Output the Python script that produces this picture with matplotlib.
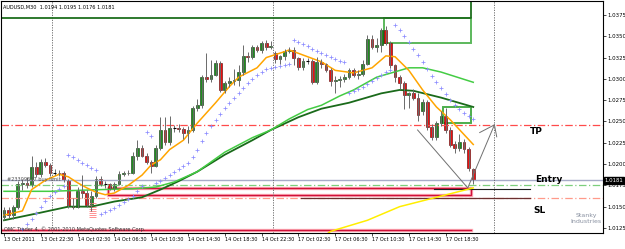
import numpy as np
import matplotlib.pyplot as plt
from matplotlib.patches import Rectangle

# AUDUSD M30, first bar 13 Oct 2011 18:30
opens = [1.0138, 1.0146, 1.0140, 1.0149, 1.0176, 1.0178, 1.0175, 1.0197, 1.0188, 1.0202,
         1.0199, 1.0190, 1.0190, 1.0189, 1.0181, 1.0151, 1.0150, 1.0168, 1.0166, 1.0152,
         1.0163, 1.0183, 1.0176, 1.0176, 1.0172, 1.0177, 1.0188, 1.0189, 1.0190, 1.0210,
         1.0219, 1.0210, 1.0202, 1.0198, 1.0219, 1.0240, 1.0226, 1.0242, 1.0242, 1.0241,
         1.0236, 1.0240, 1.0266, 1.0269, 1.0302, 1.0300, 1.0305, 1.0319, 1.0287, 1.0295,
         1.0297, 1.0299, 1.0308, 1.0327, 1.0326, 1.0337, 1.0334, 1.0342, 1.0338, 1.0330,
         1.0323, 1.0327, 1.0333, 1.0334, 1.0324, 1.0314, 1.0321, 1.0321, 1.0296, 1.0320,
         1.0317, 1.0311, 1.0297, 1.0299, 1.0300, 1.0302, 1.0311, 1.0305, 1.0306, 1.0318,
         1.0347, 1.0337, 1.0340, 1.0357, 1.0342, 1.0316, 1.0302, 1.0295, 1.0281, 1.0284,
         1.0278, 1.0262, 1.0273, 1.0244, 1.0232, 1.0248, 1.0257, 1.0240, 1.0224, 1.0219,
         1.0226, 1.0218, 1.0194]
highs = [1.0150, 1.0150, 1.0152, 1.0180, 1.0183, 1.0185, 1.0210, 1.0203, 1.0206, 1.0207,
         1.0201, 1.0194, 1.0193, 1.0192, 1.0183, 1.0160, 1.0173, 1.0187, 1.0170, 1.0168,
         1.0186, 1.0186, 1.0180, 1.0178, 1.0179, 1.0192, 1.0192, 1.0193, 1.0214, 1.0228,
         1.0222, 1.0213, 1.0205, 1.0222, 1.0255, 1.0255, 1.0256, 1.0246, 1.0247, 1.0244,
         1.0245, 1.0268, 1.0276, 1.0305, 1.0330, 1.0322, 1.0322, 1.0321, 1.0298, 1.0302,
         1.0312, 1.0316, 1.0340, 1.0331, 1.0340, 1.0340, 1.0344, 1.0346, 1.0345, 1.0333,
         1.0328, 1.0335, 1.0337, 1.0338, 1.0326, 1.0324, 1.0325, 1.0323, 1.0326, 1.0323,
         1.0319, 1.0313, 1.0303, 1.0303, 1.0306, 1.0313, 1.0313, 1.0311, 1.0322, 1.0352,
         1.0352, 1.0348, 1.0360, 1.0362, 1.0344, 1.0318, 1.0304, 1.0297, 1.0285, 1.0288,
         1.0283, 1.0276, 1.0275, 1.0247, 1.0250, 1.0262, 1.0266, 1.0243, 1.0227, 1.0235,
         1.0229, 1.0220, 1.0195]
lows = [1.0134, 1.0137, 1.0136, 1.0147, 1.0170, 1.0172, 1.0173, 1.0185, 1.0185, 1.0197,
        1.0186, 1.0187, 1.0186, 1.0179, 1.0148, 1.0147, 1.0148, 1.0160, 1.0150, 1.0145,
        1.0160, 1.0174, 1.0172, 1.0170, 1.0168, 1.0175, 1.0186, 1.0187, 1.0188, 1.0205,
        1.0208, 1.0200, 1.0190, 1.0196, 1.0217, 1.0222, 1.0222, 1.0238, 1.0238, 1.0230,
        1.0225, 1.0238, 1.0262, 1.0266, 1.0296, 1.0296, 1.0303, 1.0285, 1.0283, 1.0290,
        1.0293, 1.0292, 1.0305, 1.0320, 1.0323, 1.0331, 1.0330, 1.0334, 1.0335, 1.0319,
        1.0317, 1.0322, 1.0330, 1.0316, 1.0310, 1.0311, 1.0318, 1.0294, 1.0294, 1.0313,
        1.0308, 1.0292, 1.0284, 1.0290, 1.0296, 1.0300, 1.0302, 1.0300, 1.0303, 1.0316,
        1.0335, 1.0331, 1.0332, 1.0340, 1.0313, 1.0296, 1.0288, 1.0265, 1.0266, 1.0275,
        1.0250, 1.0258, 1.0240, 1.0228, 1.0228, 1.0245, 1.0236, 1.0220, 1.0213, 1.0215,
        1.0213, 1.0192, 1.0176]
closes = [1.0146, 1.0140, 1.0149, 1.0176, 1.0178, 1.0175, 1.0197, 1.0188, 1.0202, 1.0199,
          1.0190, 1.0190, 1.0189, 1.0181, 1.0151, 1.0150, 1.0168, 1.0166, 1.0152, 1.0163,
          1.0183, 1.0176, 1.0176, 1.0172, 1.0177, 1.0188, 1.0189, 1.0190, 1.0210, 1.0219,
          1.0210, 1.0202, 1.0198, 1.0219, 1.0240, 1.0226, 1.0242, 1.0242, 1.0241, 1.0236,
          1.0240, 1.0266, 1.0269, 1.0302, 1.0300, 1.0305, 1.0319, 1.0287, 1.0295, 1.0297,
          1.0299, 1.0308, 1.0327, 1.0326, 1.0337, 1.0334, 1.0342, 1.0338, 1.0339, 1.0323,
          1.0327, 1.0333, 1.0334, 1.0324, 1.0314, 1.0321, 1.0321, 1.0296, 1.0320, 1.0317,
          1.0311, 1.0297, 1.0299, 1.0300, 1.0302, 1.0311, 1.0305, 1.0306, 1.0318, 1.0347,
          1.0337, 1.0340, 1.0357, 1.0342, 1.0316, 1.0302, 1.0295, 1.0281, 1.0283, 1.0278,
          1.0258, 1.0273, 1.0244, 1.0232, 1.0248, 1.0257, 1.0240, 1.0222, 1.0219, 1.0226,
          1.0218, 1.0195, 1.0181]

# parabolic SAR, one value per bar
sar = [1.0111, 1.0113, 1.0116, 1.0118, 1.0124, 1.0130, 1.0136, 1.0143, 1.0150, 1.0157,
       1.0163, 1.0167, 1.0171, 1.0174, 1.0211, 1.0208, 1.0205, 1.0201, 1.0199, 1.0195,
       1.0193, 1.0141, 1.0144, 1.0146, 1.0148, 1.0152, 1.0155, 1.0159, 1.0163, 1.0168,
       1.0174, 1.0238, 1.0233, 1.0178, 1.0180, 1.0184, 1.0187, 1.0191, 1.0194, 1.0198,
       1.0201, 1.0208, 1.0217, 1.0227, 1.0237, 1.0245, 1.0252, 1.0259, 1.0266, 1.0272,
       1.0278, 1.0283, 1.0289, 1.0295, 1.0300, 1.0305, 1.0308, 1.0312, 1.0313, 1.0314,
       1.0315, 1.0316, 1.0318, 1.0346, 1.0343, 1.0341, 1.0339, 1.0335, 1.0333, 1.0330,
       1.0328, 1.0326, 1.0323, 1.0321, 1.0320, 1.0283, 1.0286, 1.0288, 1.0291, 1.0294,
       1.0298, 1.0301, 1.0305, 1.0308, 1.0310, 1.0363, 1.0357, 1.0350, 1.0343, 1.0335,
       1.0328, 1.0320, 1.0312, 1.0303, 1.0296, 1.0289, 1.0282, 1.0275, 1.0269, 1.0265,
       1.0260, 1.0257, 1.0253]

# moving averages (bar, value)
fast_bars = [0, 4, 6, 9, 12, 14, 16, 18, 20, 22, 24, 27, 30, 32, 34, 36, 39, 42, 46,
             49, 51, 55, 57, 61, 62, 66, 69, 72, 76, 80, 83, 85, 88, 91, 94, 97, 102]
fast_ma = [1.0140, 1.0145, 1.0170, 1.0181, 1.0188, 1.0185, 1.0178, 1.0172, 1.0167,
           1.0164, 1.0166, 1.0175, 1.0187, 1.0199, 1.0205, 1.0217, 1.0228, 1.0248,
           1.0272, 1.0291, 1.0302, 1.0313, 1.0325, 1.0332, 1.0334, 1.0326, 1.0320,
           1.0310, 1.0307, 1.0313, 1.0327, 1.0326, 1.0310, 1.0287, 1.0267, 1.0252, 1.0223]
mid_bars = [0, 10, 21, 28, 33, 37, 42, 48, 54, 58, 62, 66, 69, 73, 76, 81, 88, 91, 95, 102]
mid_ma = [1.0168, 1.0168, 1.0170, 1.0171, 1.0173, 1.0179, 1.0191, 1.0214, 1.0231, 1.0240,
          1.0253, 1.0264, 1.0269, 1.0280, 1.0287, 1.0302, 1.0313, 1.0313, 1.0308, 1.0296]
slow_bars = [0, 8, 14, 19, 24, 30, 34, 38, 42, 48, 54, 58, 64, 69, 75, 82, 86, 89, 95, 102]
slow_ma = [1.0134, 1.0143, 1.0150, 1.0150, 1.0156, 1.0161, 1.0170, 1.0180, 1.0191, 1.0211,
           1.0228, 1.0240, 1.0255, 1.0265, 1.0272, 1.0283, 1.0287, 1.0286, 1.0278, 1.0267]
long_bars = [70, 71, 79, 86, 94, 102]
long_ma = [1.0117, 1.0121, 1.0134, 1.0150, 1.0161, 1.0172]

# levels and objects
tp_level = 1.0246
bid = 1.0181
entry_level = 1.0175
sl_level = 1.0160
separators = [10.5, 58.5, 106.5]
tick_bars = [0, 8, 16, 24, 32, 40, 48, 56, 64, 72, 80, 88, 96]
tick_labels = ['13 Oct 2011', '13 Oct 22:30', '14 Oct 02:30', '14 Oct 06:30',
               '14 Oct 10:30', '14 Oct 14:30', '14 Oct 18:30', '14 Oct 22:30',
               '17 Oct 02:30', '17 Oct 06:30', '17 Oct 10:30', '17 Oct 14:30',
               '17 Oct 18:30']
zig_x = [89.9, 100.8, 106.6]
zig_y = [1.0240, 1.0172, 1.0246]
hatch = [1.0154, 1.0152, 1.0149, 1.0147, 1.0145, 1.0142, 1.0140, 1.0138]

fig = plt.figure(figsize=(6.25, 2.49), dpi=100)
ax = fig.add_axes([1 / 625, 16 / 249, 602 / 625, 232 / 249])
x = np.arange(len(opens))

# horizontal lines
ax.axhline(tp_level, color='#ff4b4b', lw=0.9, ls=(0, (6, 2, 1, 2)))
ax.axhline(bid, color='#a8acc8', lw=1.0)
ax.axhline(entry_level, color='#7ccf7c', lw=0.9, ls=(0, (6, 2, 1, 2)))
ax.axhline(sl_level, color='#ff9a8a', lw=0.9, ls=(0, (6, 2, 1, 2)))
for s in separators:
    ax.axvline(s, color='#606060', lw=0.6, ls=(0, (1.5, 1.5)))

# rectangles
ax.plot([-2, 101.6, 101.6], [1.0372, 1.0372, 1.0400], color='#1e6e1e', lw=1.3)
ax.add_patch(Rectangle((82.5, 1.0342), 19.1, 0.0030, fill=False, ec='#5cb85c', lw=1.4))
ax.add_patch(Rectangle((95.5, 1.0248), 6.1, 0.0019, fill=False, ec='#4cae4c', lw=1.4))
ax.add_patch(Rectangle((22.5, 1.0164), 79.1, 0.0008, fill=False, ec='#ffb0b8', lw=2.4))
ax.add_patch(Rectangle((22.5, 1.0164), 79.1, 0.0008, fill=False, ec='#d0103a', lw=1.0))
ax.plot([-2, 101.6], [1.0123, 1.0123], color='#ffb0b8', lw=2.4)
ax.plot([-2, 101.6], [1.0123, 1.0123], color='#d0103a', lw=1.0)
ax.plot([93.4, 114.4], [1.0171, 1.0171], color='#202020', lw=0.8)
ax.plot([64.5, 114.4], [1.0160, 1.0160], color='#6a3030', lw=0.9)
ax.hlines(hatch, 18.4, 20.1, color='#ff8080', lw=0.6)

# indicators
ax.plot(long_bars, long_ma, color='#ffee00', lw=1.1)
ax.plot(slow_bars, slow_ma, color='#1a6a1a', lw=1.3)
ax.plot(mid_bars, mid_ma, color='#44cc44', lw=1.1)
ax.plot(fast_bars, fast_ma, color='#ffa500', lw=1.1)
ax.plot(x, sar, ls='none', marker='+', ms=2.4, mew=0.55, color='#8c8cff')

# candles
o = np.array(opens)
c = np.array(closes)
ax.vlines(x, lows, highs, color='#6a6a6a', lw=0.7)
up = c > o
dn = c < o
ax.bar(x[up], (c - o)[up], bottom=o[up], width=0.62, color='#1e8f1e', edgecolor='#0c300c', lw=0.4)
ax.bar(x[dn], (c - o)[dn], bottom=o[dn], width=0.62, color='#ee1010', edgecolor='#500000', lw=0.4)
flat = ~(up | dn)
ax.hlines(o[flat], x[flat] - 0.35, x[flat] + 0.35, color='black', lw=0.8)

# hand-drawn projection
ax.plot(zig_x, zig_y, color='#707070', lw=0.7)
ax.plot([103.4, 106.6, 107.1], [1.0237, 1.0246, 1.0232], color='#707070', lw=0.7)

# texts
ax.text(114.2, 1.0238, 'TP', fontsize=6.5, fontweight='bold', ha='left', va='center')
ax.text(115.4, 1.0182, 'Entry', fontsize=6.5, fontweight='bold', ha='left', va='center')
ax.text(115.0, 1.0146, 'SL', fontsize=6.5, fontweight='bold', ha='left', va='center')
ax.text(126.5, 1.0140, 'Stanky', fontsize=4.5, color='#8890a0', ha='center', va='center')
ax.text(126.5, 1.0133, 'Industries', fontsize=4.5, color='#8890a0', ha='center', va='center')
ax.text(0.6, 1.0182, '#23309637 buy limit', fontsize=3.6, color='#505050', ha='left', va='center')
ax.text(0.004, 0.985, 'AUDUSD,M30  1.0194 1.0195 1.0176 1.0181', transform=ax.transAxes,
        fontsize=3.6, ha='left', va='top')
ax.text(0.003, 1.0123, 'OMC Trader 4, \u00a9 2001-2010 MetaQuotes Software Corp.',
        fontsize=3.6, color='#303030', ha='left', va='center')

# axes
ax.set_xlim(-0.65, 130.2)
ax.set_ylim(1.011906, 1.039143)
ax.yaxis.tick_right()
yt = np.arange(1.0125, 1.0376, 0.0025)
ax.set_yticks(yt)
ax.set_yticklabels(['%.4f' % v for v in yt])
ax.set_xticks(tick_bars)
ax.set_xticklabels(tick_labels, ha='left')
ax.tick_params(axis='x', labelsize=3.6, length=2, width=0.5, pad=1)
ax.tick_params(axis='y', labelsize=3.9, length=2, width=0.5, pad=1)
ax.text(1.003, bid, '%.4f' % bid, transform=ax.get_yaxis_transform(), fontsize=3.9,
        color='white', ha='left', va='center',
        bbox=dict(boxstyle='square,pad=0.15', fc='black', ec='black'))
for sp in ax.spines.values():
    sp.set_linewidth(0.8)

fig.savefig('out.png', dpi=100)
